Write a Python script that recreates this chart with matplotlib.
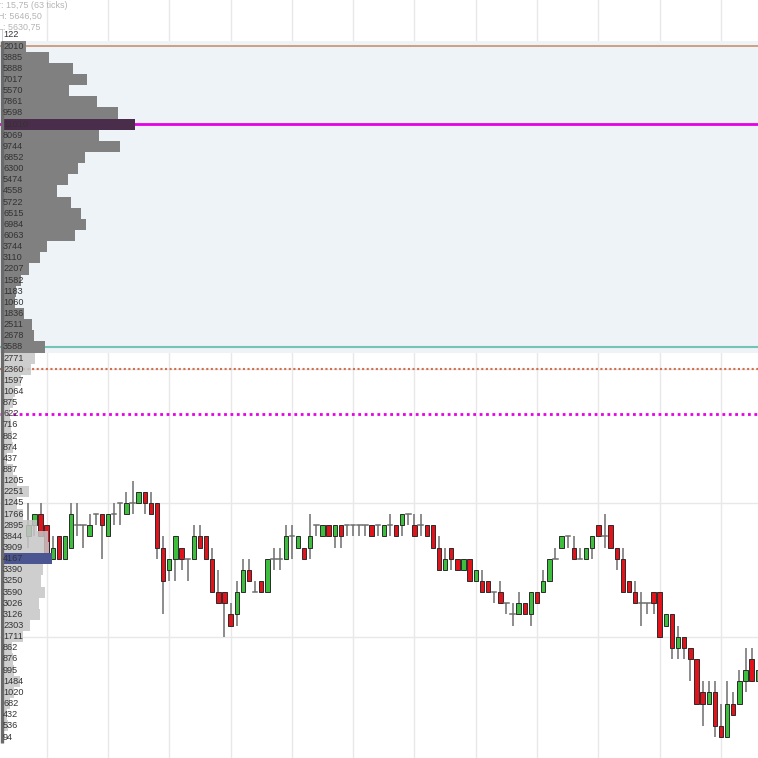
import matplotlib
matplotlib.use("Agg")
import matplotlib.pyplot as plt

# volume profile, top price level first (tick = 0.25)
top_price = 5646.50
tick = 0.25
volumes = [122, 2010, 3885, 5888, 7017, 5570, 7861, 9598, 11010, 8069, 9744, 6852,
           6300, 5474, 4558, 5722, 6515, 6984, 6063, 3744, 3110, 2207, 1582, 1183,
           1060, 1836, 2511, 2678, 3588, 2771, 2360, 1597, 1064, 875, 622, 716,
           862, 874, 437, 887, 1205, 2251, 1245, 1766, 2895, 3844, 3909, 4167,
           3390, 3250, 3590, 3026, 3126, 2303, 1711, 862, 876, 995, 1484, 1020,
           682, 432, 536, 94]
levels = [top_price - tick * i for i in range(len(volumes))]

poc = 5644.50
vah = 5646.25
val = 5639.50
lower_node = 5634.75
dotted_orange = 5639.00
dotted_magenta = 5638.00

# candles
opens = [5635.25, 5635.50, 5635.75, 5635.50, 5634.75, 5635.25, 5634.75, 5635.00, 5635.50, 5635.50,
         5635.25, 5635.75, 5635.75, 5635.25, 5635.75, 5636.00, 5635.75, 5636.00, 5636.00, 5636.25,
         5636.00, 5636.00, 5635.00, 5634.50, 5634.75, 5635.00, 5634.75, 5634.75, 5635.25, 5635.25,
         5634.75, 5634.00, 5634.00, 5633.50, 5633.50, 5634.00, 5634.50, 5634.00, 5634.25, 5634.00,
         5634.75, 5634.75, 5634.75, 5635.25, 5635.00, 5635.00, 5635.00, 5635.50, 5635.25, 5635.50,
         5635.25, 5635.50, 5635.50, 5635.50, 5635.50, 5635.50, 5635.50, 5635.50, 5635.25, 5635.50,
         5635.50, 5635.50, 5635.75, 5635.50, 5635.50, 5635.50, 5635.50, 5635.00, 5634.50, 5635.00,
         5634.75, 5634.50, 5634.75, 5634.25, 5634.25, 5634.25, 5634.00, 5634.00, 5633.75, 5633.50,
         5633.50, 5633.75, 5633.50, 5634.00, 5634.00, 5634.25, 5634.75, 5635.00, 5635.25, 5635.00,
         5634.75, 5634.75, 5635.00, 5635.50, 5635.25, 5635.50, 5635.00, 5634.75, 5634.25, 5634.00,
         5633.75, 5633.75, 5634.00, 5634.00, 5633.25, 5633.50, 5632.75, 5633.00, 5632.75, 5632.50,
         5631.75, 5631.50, 5631.75, 5631.00, 5630.75, 5631.50, 5631.50, 5632.00, 5632.50, 5632.00]
highs = [5636.00, 5635.75, 5636.00, 5635.50, 5635.25, 5635.25, 5635.25, 5636.00, 5636.00, 5635.50,
         5635.75, 5635.75, 5635.75, 5635.75, 5636.00, 5636.00, 5636.25, 5636.50, 5636.25, 5636.25,
         5636.25, 5636.00, 5635.25, 5634.75, 5635.25, 5635.00, 5634.75, 5635.50, 5635.50, 5635.25,
         5635.00, 5634.50, 5634.00, 5633.75, 5634.25, 5634.75, 5634.75, 5634.25, 5634.25, 5634.75,
         5635.00, 5635.00, 5635.50, 5635.50, 5635.25, 5635.00, 5635.75, 5635.50, 5635.50, 5635.50,
         5635.50, 5635.50, 5635.50, 5635.50, 5635.50, 5635.50, 5635.50, 5635.50, 5635.50, 5635.75,
         5635.50, 5635.75, 5635.75, 5635.75, 5635.75, 5635.50, 5635.50, 5635.25, 5635.00, 5635.00,
         5634.75, 5634.75, 5634.75, 5634.50, 5634.50, 5634.25, 5634.00, 5634.25, 5633.75, 5633.75,
         5634.00, 5633.75, 5634.00, 5634.00, 5634.50, 5634.75, 5635.00, 5635.25, 5635.25, 5635.25,
         5635.00, 5635.00, 5635.25, 5635.50, 5635.75, 5635.50, 5635.00, 5635.00, 5634.25, 5634.25,
         5634.00, 5633.75, 5634.00, 5634.00, 5633.50, 5633.50, 5633.25, 5633.00, 5632.75, 5632.50,
         5632.00, 5632.00, 5632.00, 5631.50, 5632.00, 5631.75, 5632.25, 5632.75, 5632.75, 5632.25]
lows = [5635.00, 5635.25, 5635.25, 5634.75, 5634.75, 5634.75, 5634.75, 5635.00, 5635.25, 5635.00,
        5635.25, 5635.50, 5634.75, 5635.25, 5635.50, 5635.50, 5635.75, 5635.75, 5636.00, 5635.75,
        5635.75, 5634.75, 5633.50, 5634.25, 5634.25, 5634.50, 5634.25, 5634.75, 5635.00, 5634.75,
        5634.00, 5633.75, 5633.00, 5633.25, 5633.25, 5634.00, 5634.25, 5634.00, 5634.00, 5634.00,
        5634.50, 5634.50, 5634.75, 5634.75, 5635.00, 5634.75, 5634.75, 5635.25, 5635.25, 5635.25,
        5635.00, 5635.00, 5635.25, 5635.25, 5635.25, 5635.25, 5635.25, 5635.25, 5635.25, 5635.25,
        5635.25, 5635.25, 5635.50, 5635.25, 5635.25, 5635.25, 5635.00, 5634.50, 5634.50, 5634.50,
        5634.50, 5634.50, 5634.25, 5634.25, 5634.00, 5634.00, 5633.75, 5633.75, 5633.50, 5633.25,
        5633.50, 5633.50, 5633.25, 5633.75, 5634.00, 5634.25, 5634.75, 5635.00, 5635.00, 5634.75,
        5634.75, 5634.75, 5634.75, 5635.25, 5635.00, 5635.00, 5634.50, 5634.00, 5634.00, 5633.75,
        5633.25, 5633.50, 5633.50, 5633.00, 5633.25, 5632.50, 5632.50, 5632.50, 5632.00, 5631.50,
        5631.00, 5631.50, 5630.75, 5630.75, 5630.75, 5631.25, 5631.50, 5631.75, 5632.00, 5632.00]
closes = [5635.50, 5635.75, 5635.25, 5634.75, 5635.00, 5634.75, 5635.25, 5635.75, 5635.50, 5635.50,
          5635.50, 5635.75, 5635.50, 5635.75, 5635.75, 5636.00, 5636.00, 5636.00, 5636.25, 5636.00,
          5635.75, 5635.00, 5634.25, 5634.75, 5635.25, 5634.75, 5634.75, 5635.25, 5635.00, 5634.75,
          5634.00, 5633.75, 5633.75, 5633.25, 5634.00, 5634.50, 5634.25, 5634.00, 5634.00, 5634.75,
          5634.75, 5634.75, 5635.25, 5635.25, 5635.25, 5634.75, 5635.25, 5635.50, 5635.50, 5635.25,
          5635.50, 5635.25, 5635.50, 5635.50, 5635.50, 5635.50, 5635.25, 5635.50, 5635.50, 5635.50,
          5635.25, 5635.75, 5635.75, 5635.25, 5635.50, 5635.25, 5635.00, 5634.50, 5634.75, 5634.75,
          5634.50, 5634.75, 5634.25, 5634.50, 5634.00, 5634.00, 5634.00, 5633.75, 5633.75, 5633.50,
          5633.75, 5633.50, 5634.00, 5633.75, 5634.25, 5634.75, 5634.75, 5635.25, 5635.25, 5634.75,
          5634.75, 5635.00, 5635.25, 5635.25, 5635.25, 5635.00, 5634.75, 5634.00, 5634.00, 5633.75,
          5633.75, 5633.75, 5633.75, 5633.00, 5633.50, 5632.75, 5633.00, 5632.75, 5632.50, 5631.50,
          5631.50, 5631.75, 5631.00, 5630.75, 5631.50, 5631.25, 5632.00, 5632.25, 5632.00, 5632.25]

GREEN = "#3dbf3d"
RED = "#e3131b"
WICK = "#6e6e6e"

fig = plt.figure(figsize=(7.58, 7.58), dpi=100)
ax = fig.add_axes([0, 0, 1, 1])
ax.set_facecolor("white")

# x: candle index, candle 0 at px 28.3, spacing 6.13 px
step = 6.13
x0 = 28.3
ax.set_xlim(-x0 / step, (758 - x0) / step)
# y: price, lowest level at px 737 from top, 11.143 px per tick
pxt = 11.143
bottom_price = levels[-1]
ax.set_ylim(bottom_price - (758 - 737) / pxt * tick, bottom_price + 737 / pxt * tick)
ax.axis("off")

# grid
for gx in range(3, 120, 10):
    ax.axvline(gx, color="#e8e8e8", lw=1, zorder=0)
for gy in [5645, 5642, 5639, 5636, 5633]:
    ax.axhline(gy, color="#e8e8e8", lw=1, zorder=0)

# value area shading
ax.axhspan(val - tick / 2, vah + tick / 2, color="#eef3f7", zorder=0.5, lw=0)

# candles
bw = 0.72
for i in range(len(opens)):
    o, h, l, c = opens[i], highs[i], lows[i], closes[i]
    ax.plot([i, i], [l, h], color=WICK, lw=1.1, zorder=2, solid_capstyle="butt")
    if o == c:
        ax.plot([i - bw / 2, i + bw / 2], [o, o], color=WICK, lw=1.1, zorder=3)
    else:
        col = GREEN if c > o else RED
        ax.add_patch(plt.Rectangle((i - bw / 2, min(o, c)), bw, abs(c - o),
                                   facecolor=col, edgecolor="#2b2b2b", lw=0.7, zorder=3))

# profile on its own volume scale: 0 at px 2, 0.01208 px per contract
ax2 = ax.twiny()
ax2.set_xlim(-2 / 0.01208, 756 / 0.01208)
ax2.axis("off")
colors = []
for p in levels:
    if p == poc:
        colors.append("#4a2d4a")
    elif p == lower_node:
        colors.append("#4b5592")
    elif val <= p <= vah:
        colors.append("#808080")
    else:
        colors.append("#c6c6c6")
alphas = [1.0 if (val <= p <= vah or p == lower_node) else 0.85 for p in levels]
for p, v, col, a in zip(levels, volumes, colors, alphas):
    ax2.barh(p, v, height=tick, color=col, alpha=a, lw=0, zorder=4)

# key lines
ax2.axhline(poc, color="#e600e6", lw=2, zorder=3.5)
ax2.axhline(vah, color="#c9906c", lw=1.2, zorder=3.5)
ax2.axhline(val, color="#72c4b4", lw=1.5, zorder=3.5)
ax2.axhline(dotted_orange, color="#d0704e", lw=1.5, ls=(0, (1, 1.2)), zorder=3.5)
ax2.axhline(dotted_magenta, color="#e600e6", lw=2, ls=(0, (1, 1.3)), zorder=3.5)
ax2.plot([-0.4 / 0.01208] * 2, [levels[-1] - tick / 2, vah + tick / 2],
         color="#6a6a6a", lw=2.4, zorder=5, solid_capstyle="butt")

# labels
font = ["Liberation Sans", "DejaVu Sans"]
ytr = ax2.get_yaxis_transform()
for p, v in zip(levels, volumes):
    ax2.text(3 / 758, p, str(v), transform=ytr, fontsize=6.6, color="#333333",
             va="center", ha="left", family=font, zorder=6)

# header text, first letter clipped at the left edge as in the source
hdr = dict(fontsize=6.4, color="#b4b4b4", va="center", ha="left", family=font)
fig.text(-1.5 / 758, 1 - 5 / 758, "r: 15,75 (63 ticks)", **hdr)
fig.text(-2.5 / 758, 1 - 16 / 758, "H: 5646,50", **hdr)
fig.text(-2 / 758, 1 - 27 / 758, "L: 5630,75", **hdr)

fig.savefig("out.png", dpi=100)
